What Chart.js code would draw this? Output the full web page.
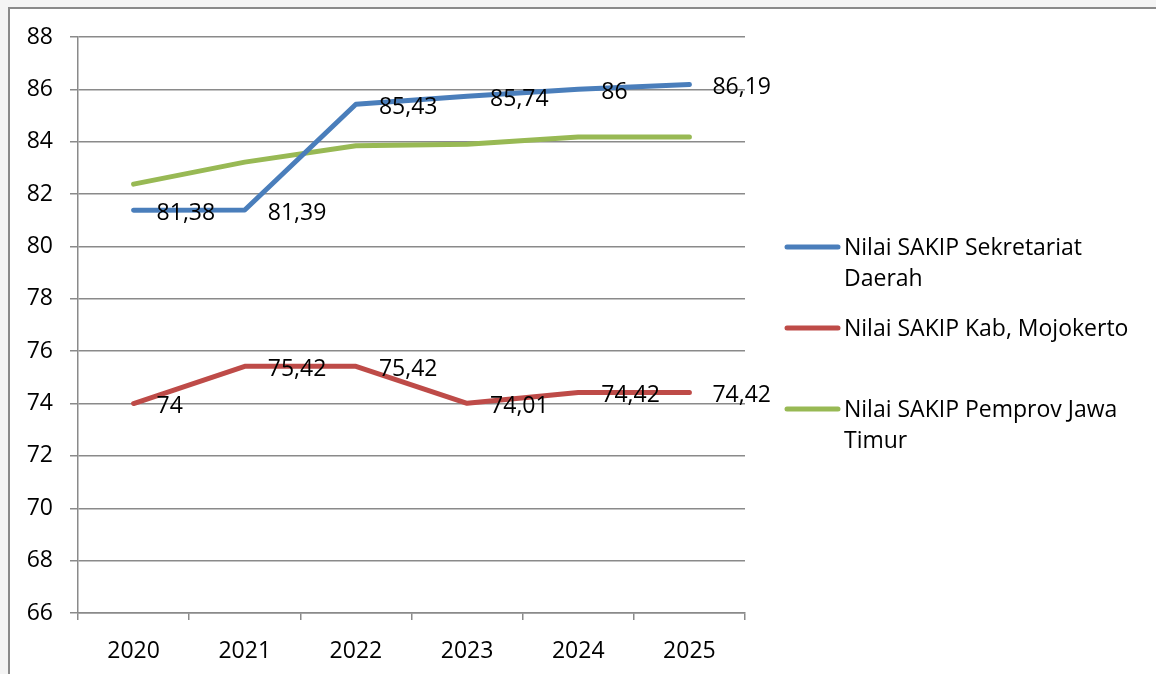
<!DOCTYPE html>
<html lang="id">
<head>
  <meta charset="UTF-8">
  <title>Nilai SAKIP</title>
  <script src="https://cdn.jsdelivr.net/npm/chart.js"></script>
  <style>
    html, body { margin: 0; padding: 0; background: #f4f4f4; overflow: hidden; }
    #frame {
      position: absolute; left: 8px; top: 7px; width: 1170px; height: 690px;
      background: #fff; border: 2px solid #8a8a8a; box-sizing: border-box;
    }
    #wrap { position: absolute; left: 0; top: 0; width: 1156px; height: 674px; }
  </style>
</head>
<body>
  <div id="frame"></div>
  <div id="wrap"><canvas id="myChart"></canvas></div>
  <script>
    const years = ['2020', '2021', '2022', '2023', '2024', '2025'];
    const sekretariat = [81.38, 81.39, 85.43, 85.74, 86, 86.19];
    const mojokerto = [74, 75.42, 75.42, 74.01, 74.42, 74.42];
    const jatim = [82.38, 83.22, 83.85, 83.9, 84.18, 84.18];
    const legendLines = [
      ['Nilai SAKIP Sekretariat', 'Daerah'],
      ['Nilai SAKIP Kab, Mojokerto'],
      ['Nilai SAKIP Pemprov Jawa', 'Timur']
    ];

    const FONT = '"Open Sans", sans-serif';
    const FSIZE = 23;

    // value labels to the right of each point, with comma decimals
    const valueLabels = {
      id: 'valueLabels',
      afterDatasetsDraw(chart) {
        const ctx = chart.ctx;
        ctx.save();
        ctx.font = FSIZE + 'px ' + FONT;
        ctx.fillStyle = '#000';
        ctx.textAlign = 'left';
        ctx.textBaseline = 'middle';
        chart.data.datasets.forEach((ds, i) => {
          if (!ds.showValues) return;
          chart.getDatasetMeta(i).data.forEach((pt, j) => {
            const txt = String(ds.data[j]).replace('.', ',');
            ctx.fillText(txt, pt.x + 23, pt.y + 3);
          });
        });
        ctx.restore();
      }
    };

    // legend on the right with wrapped text
    const sideLegend = {
      id: 'sideLegend',
      afterDraw(chart) {
        const ctx = chart.ctx;
        const tops = [247, 328, 409];
        ctx.save();
        ctx.font = FSIZE + 'px ' + FONT;
        ctx.textAlign = 'left';
        ctx.textBaseline = 'middle';
        chart.data.datasets.forEach((ds, i) => {
          ctx.strokeStyle = ds.borderColor;
          ctx.lineWidth = 5;
          ctx.lineCap = 'round';
          ctx.beginPath();
          ctx.moveTo(787, tops[i]);
          ctx.lineTo(838, tops[i]);
          ctx.stroke();
          ctx.fillStyle = '#000';
          legendLines[i].forEach((line, k) => {
            ctx.fillText(line, 844, tops[i] + 1 + k * 31);
          });
        });
        ctx.restore();
      }
    };

    const ctx = document.getElementById('myChart').getContext('2d');
    new Chart(ctx, {
      type: 'line',
      data: {
        labels: years,
        datasets: [
          { label: legendLines[0].join(' '), data: sekretariat, borderColor: '#4a7ebb', showValues: true },
          { label: legendLines[1].join(' '), data: mojokerto, borderColor: '#be4b48', showValues: true },
          { label: legendLines[2].join(' '), data: jatim, borderColor: '#98b954', showValues: false }
        ].map(d => Object.assign(d, {
          borderWidth: 5, pointRadius: 0, tension: 0, fill: false,
          borderCapStyle: 'round', borderJoinStyle: 'round'
        }))
      },
      options: {
        responsive: true,
        maintainAspectRatio: false,
        animation: false,
        layout: { padding: { left: 0, top: 37, right: 411, bottom: 0 } },
        plugins: { legend: { display: false }, tooltip: { enabled: false } },
        scales: {
          x: {
            offset: true,
            grid: { offset: true, drawOnChartArea: false, tickLength: 7, color: '#8a8a8a', lineWidth: 1.5 },
            border: { color: '#8a8a8a', width: 1.5 },
            ticks: { color: '#000', font: { family: FONT, size: FSIZE }, padding: 18, maxRotation: 0 },
            afterFit(s) { s.height = 61; }
          },
          y: {
            min: 66, max: 88,
            ticks: { stepSize: 2, color: '#000', font: { family: FONT, size: FSIZE }, padding: 17 },
            grid: { color: '#8a8a8a', lineWidth: 1.5, tickLength: 8 },
            border: { color: '#8a8a8a', width: 1.5 },
            afterFit(s) { s.width = 78; }
          }
        }
      },
      plugins: [valueLabels, sideLegend]
    });
  </script>
</body>
</html>
